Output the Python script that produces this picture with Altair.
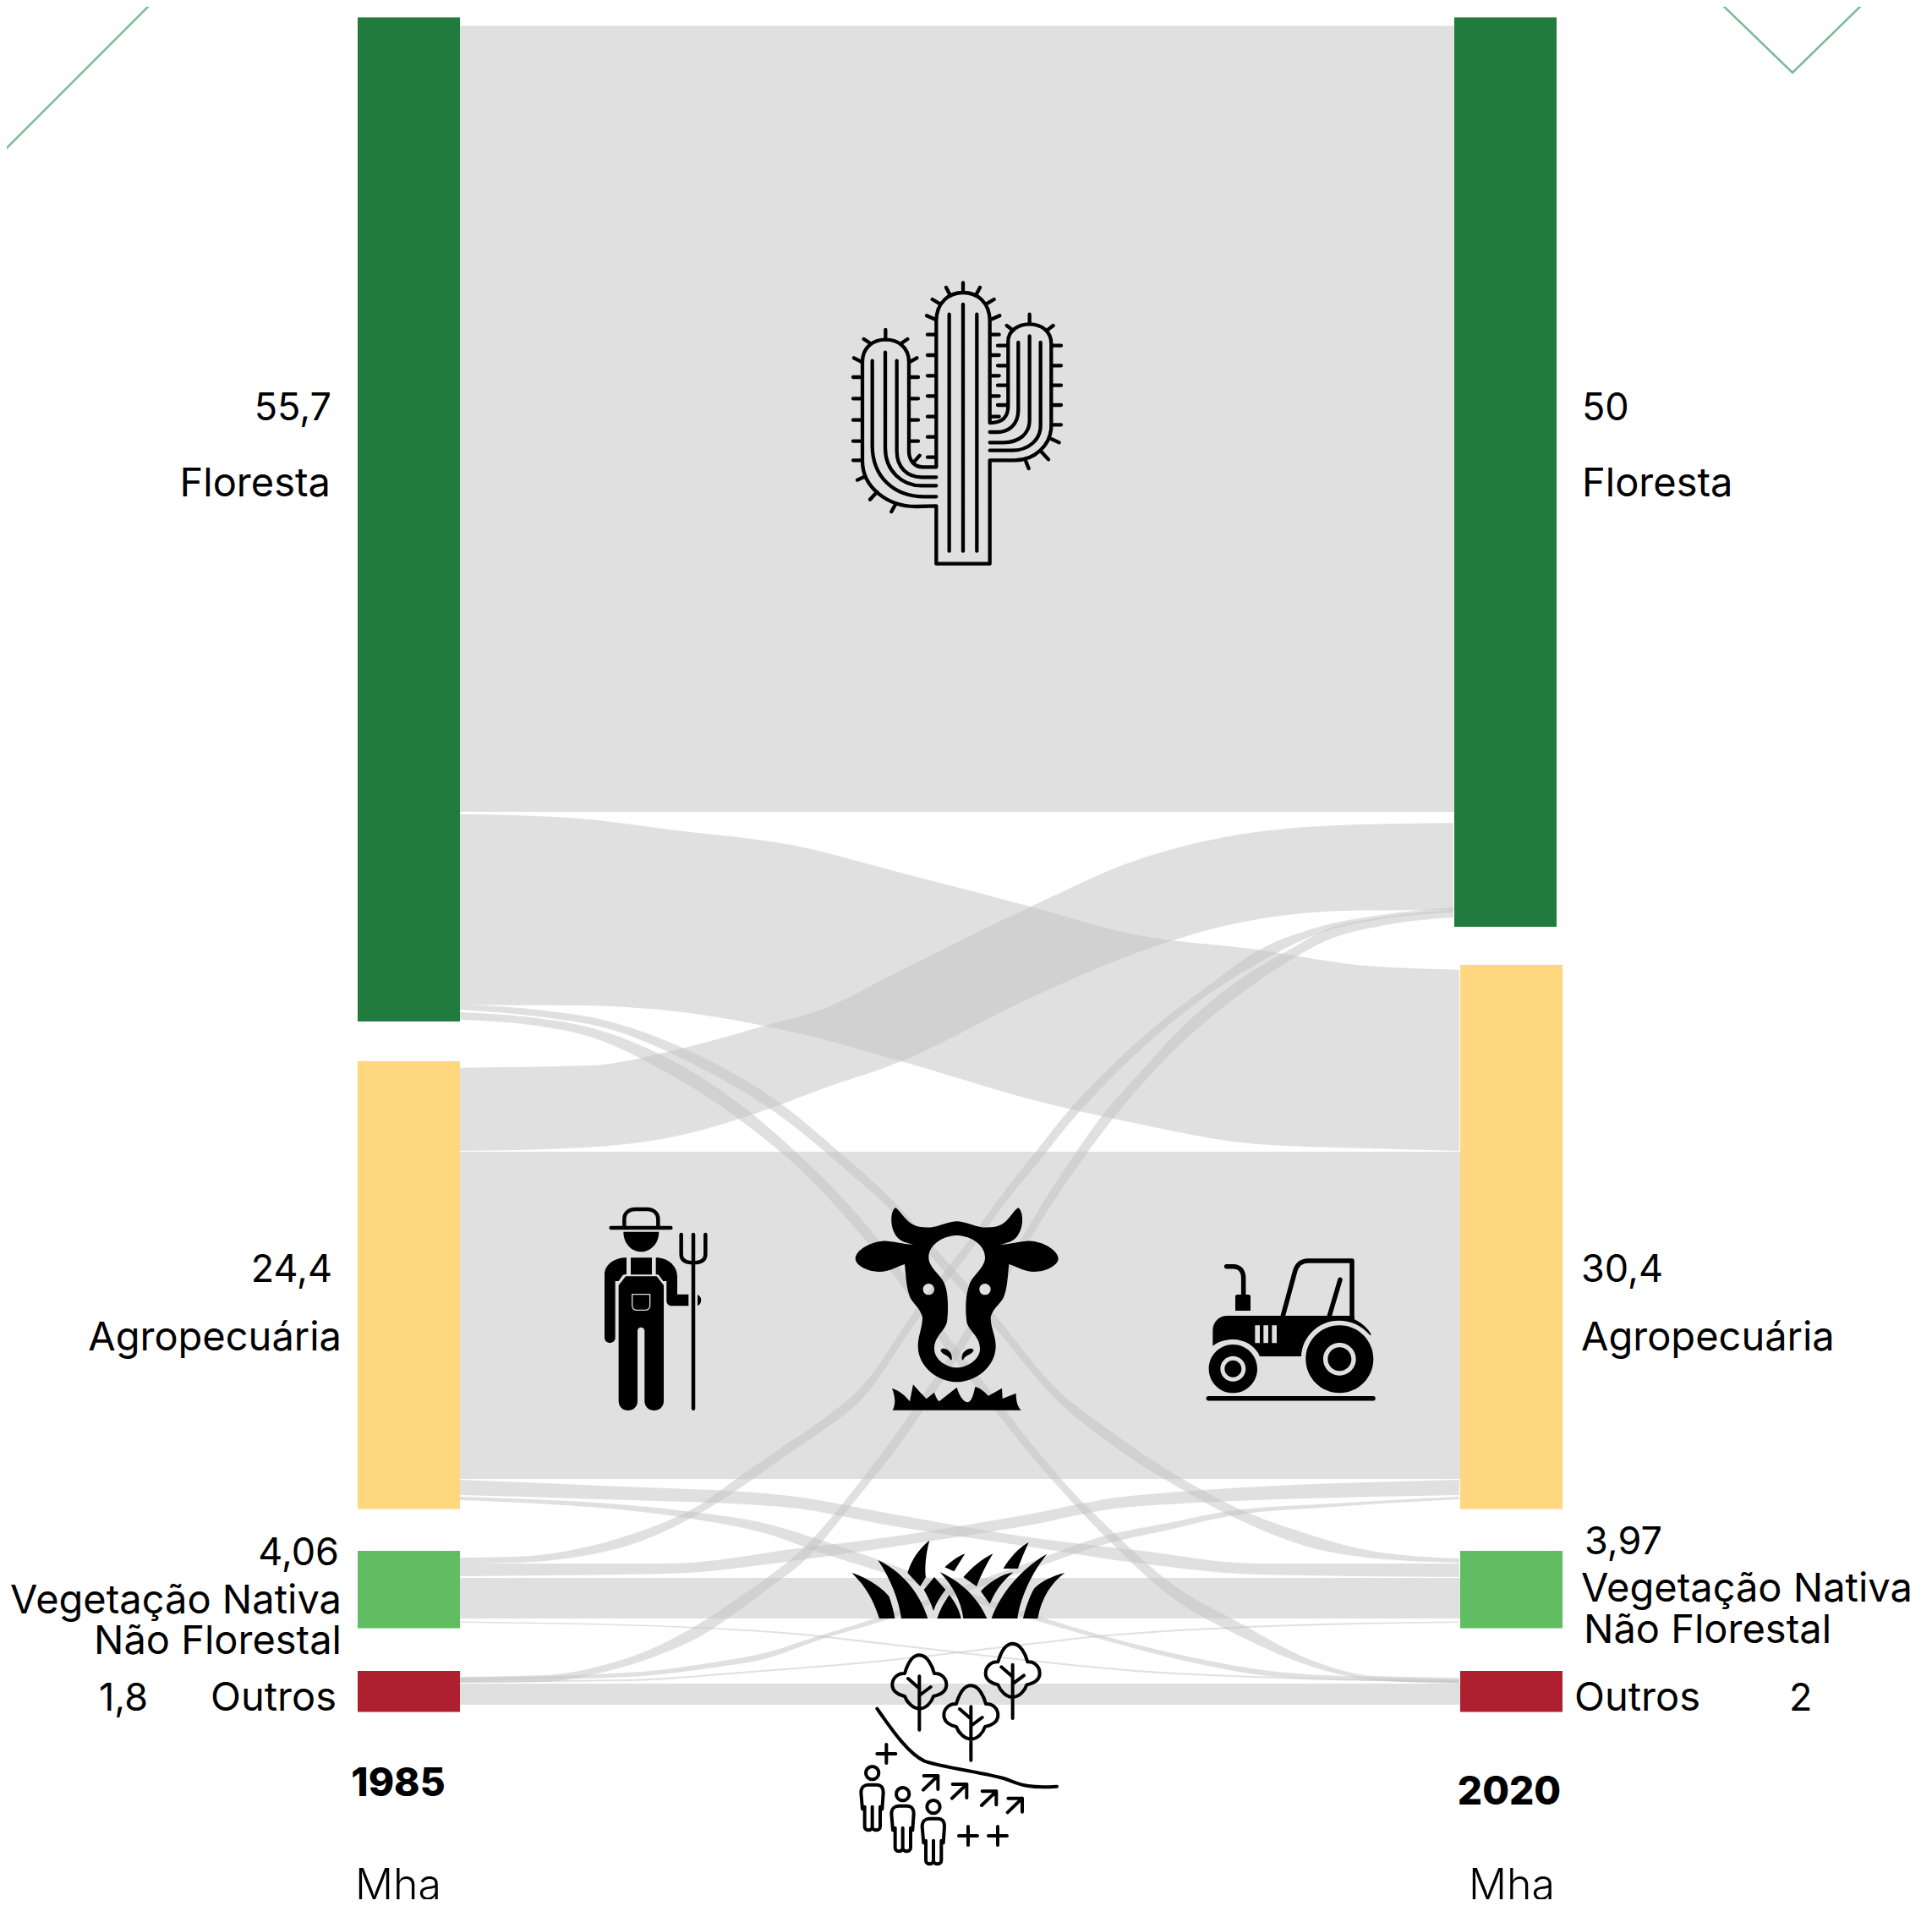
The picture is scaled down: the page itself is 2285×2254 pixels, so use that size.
import altair as alt
import pandas as pd

# ---- Sankey nodes: label, column, value, extent
node_names = ["Floresta", "Agropecuária", "Vegetação Nativa", "Outros",
              "Floresta", "Agropecuária", "Vegetação Nativa", "Outros"]
node_years = [1985, 1985, 1985, 1985, 2020, 2020, 2020, 2020]
node_values = [55.7, 24.4, 4.06, 1.8, 50, 30.4, 3.97, 2]
node_x0 = [423, 423, 423, 423, 1720, 1727, 1727, 1727]
node_x1 = [544, 544, 544, 544, 1841, 1848, 1848, 1848]
node_top = [20.4, 1255, 1834, 1976, 20.4, 1141, 1834, 1976]
node_bot = [1208, 1784.5, 1925.5, 2024.5, 1096, 1784.5, 1925.5, 2024.5]
node_cols = ["#217a3e", "#fed77f", "#60bd61", "#ae2030",
             "#217a3e", "#fed77f", "#60bd61", "#ae2030"]

# ---- Flows: (position, upper edge, lower edge)
flow_ff = [(544, 30.6, 960), (1720, 30.6, 960)]
flow_fa = [(544, 962.7, 1188.3), (607, 964, 1188.7), (683, 967.7, 1189), (798, 981.7, 1196),
           (936, 999.3, 1220), (1066, 1032.3, 1255), (1219, 1072.3, 1300), (1341, 1105, 1328),
           (1487, 1123, 1353), (1617, 1142.3, 1358), (1726, 1146.7, 1361)]
flow_af = [(544, 1262.7, 1361), (698, 1260, 1356.7), (798, 1241.7, 1344), (913, 1210.7, 1310),
           (966, 1196, 1290), (1066, 1147.3, 1255), (1219, 1072.3, 1180), (1341, 1018.3, 1128),
           (1448, 990, 1095), (1601, 975.3, 1076.7), (1719, 973.3, 1076)]
flow_fv = [(544, 1188, 1194), (644, 1195, 1203), (721, 1208, 1217), (807, 1239, 1252),
           (926, 1307, 1322), (992, 1362, 1376), (1064, 1428, 1442), (1103, 1473, 1488),
           (1175, 1553, 1568), (1247, 1640, 1653), (1310, 1690, 1705), (1387, 1742, 1755),
           (1467, 1785, 1798), (1543, 1813, 1828), (1627, 1835, 1843), (1726, 1843, 1848)]
flow_fo = [(544, 1197, 1206), (627, 1203, 1212), (701, 1216, 1227), (779, 1246, 1263),
           (892, 1319, 1337), (941, 1362, 1378), (1024, 1448, 1467), (1057, 1490, 1508),
           (1110, 1565, 1583), (1187, 1665, 1681), (1210, 1695, 1710), (1255, 1749, 1762),
           (1322, 1817, 1832), (1378, 1867, 1883), (1473, 1923, 1938), (1543, 1960, 1968),
           (1627, 1982, 1987), (1726, 1984, 1991)]
flow_vf = [(544, 1842, 1849), (611, 1841, 1848), (677, 1833, 1842), (751, 1813, 1825),
           (827, 1780, 1790), (872, 1748, 1762), (927, 1710, 1723), (971, 1680, 1693),
           (1019, 1640, 1655), (1087, 1543, 1558), (1145, 1468, 1483), (1200, 1393, 1408),
           (1225, 1362, 1378), (1265, 1312, 1328), (1312, 1263, 1277), (1367, 1213, 1225),
           (1433, 1163, 1173), (1483, 1127, 1142), (1557, 1097, 1105), (1633, 1082, 1087),
           (1719, 1073, 1079)]
flow_of = [(544, 1983, 1990), (644, 1981, 1989), (711, 1970, 1978), (777, 1947, 1958),
           (837, 1914, 1930), (877, 1887, 1902), (907, 1866, 1880), (954, 1827, 1843),
           (1011, 1760, 1775), (1064, 1690, 1708), (1105, 1630, 1648), (1180, 1512, 1530),
           (1235, 1420, 1438), (1273, 1362, 1381), (1303, 1320, 1340), (1347, 1270, 1286),
           (1400, 1213, 1231), (1457, 1165, 1183), (1527, 1122, 1135), (1567, 1100, 1113),
           (1633, 1085, 1095), (1719, 1076, 1085)]
flow_aa = [(544, 1362, 1749), (1727, 1362, 1749)]
flow_av = [(544, 1750, 1768), (711, 1757, 1773), (925, 1768, 1782), (1064, 1792, 1806),
           (1210, 1817, 1828), (1343, 1833, 1848), (1487, 1849, 1862), (1726, 1849, 1865)]
flow_va = [(544, 1849, 1864), (790, 1849, 1861), (945, 1831, 1845), (1064, 1816, 1828),
           (1210, 1792, 1805), (1337, 1769, 1782), (1726, 1750, 1768)]
flow_ao = [(544, 1770, 1774), (811, 1787, 1795), (911, 1803, 1815), (967, 1820, 1835),
           (1040, 1845, 1858), (1130, 1878, 1888), (1227, 1911, 1917), (1300, 1933, 1938),
           (1410, 1960, 1966), (1510, 1977, 1983), (1643, 1984, 1988), (1726, 1986, 1990)]
flow_oa = [(544, 1984, 1988), (744, 1978, 1983), (837, 1967, 1973), (911, 1953, 1960),
           (967, 1935, 1940), (1041, 1912, 1918), (1140, 1875, 1883), (1230, 1843, 1852),
           (1300, 1818, 1828), (1387, 1800, 1808), (1453, 1787, 1793), (1577, 1778, 1782),
           (1726, 1770, 1773)]
flow_vv = [(544, 1866, 1914), (1727, 1866, 1914)]
flow_vo = [(544, 1917.5, 1919), (811, 1923.5, 1925), (927, 1930, 1932), (1064, 1945, 1947),
           (1220, 1963, 1965), (1343, 1975, 1977), (1510, 1983, 1985), (1726, 1988, 1989.5)]
flow_ov = [(544, 1988, 1989.5), (744, 1986, 1988), (877, 1977, 1979), (1064, 1961, 1963),
           (1210, 1944, 1946), (1310, 1933, 1935), (1477, 1923, 1925), (1726, 1917.5, 1919)]
flow_oo = [(544, 1991, 2016), (1727, 1991, 2016)]

flows = {"ff": flow_ff, "fa": flow_fa, "af": flow_af, "fv": flow_fv, "fo": flow_fo, "vf": flow_vf,
         "of": flow_of, "aa": flow_aa, "av": flow_av, "va": flow_va, "ao": flow_ao, "oa": flow_oa,
         "vv": flow_vv, "vo": flow_vo, "ov": flow_ov, "oo": flow_oo}

# ---- Texts
left_num = ["55,7", "24,4", "4,06"]
left_num_x = [392, 393, 401]
left_num_y = [483, 1502, 1837]
left_text = ["Floresta", "Agropecuária", "Vegetação Nativa", "Não Florestal", "Outros"]
left_x = [391, 404, 404, 404, 398]
left_y = [573, 1583, 1894, 1942, 2009]
right_num = ["50", "30,4", "3,97", "2", "1,8"]
right_num_x = [1871, 1870, 1874, 2116, 117]
right_num_y = [483, 1502, 1824, 2009, 2009]
right_text = ["Floresta", "Agropecuária", "Vegetação Nativa", "Não Florestal", "Outros"]
right_x = [1871, 1870, 1870, 1873, 1862]
right_y = [573, 1583, 1880, 1929, 2009]
year_text = ["1985", "2020"]
year_x = [471, 1785]
year_y = [2110, 2120]
unit_text = ["Mha", "Mha"]
unit_x = [471, 1788]
unit_y = [2231, 2231]

# ---- Corner decoration
deco_id = ["a", "a", "b", "b", "b"]
deco_x = [0, 183, 2031, 2120, 2208]
deco_y = [183, 0, 0, 86, 0]

FONT = "Inter"
X_SCALE = alt.Scale(domain=[8, 2277], range=[0, 2269], nice=False, zero=False)
Y_SCALE = alt.Scale(domain=[8, 2246], range=[0, 2238], nice=False, zero=False)
X = alt.X("x:Q", scale=X_SCALE, axis=None)
Y = alt.Y("y:Q", scale=Y_SCALE, axis=None)

# ---- Flow layer
rows = []
for fid, pts in flows.items():
    for x, t, b in pts:
        rows.append({"id": fid, "x": x, "y": t, "y2": b})
flow_layer = alt.Chart(pd.DataFrame(rows)).mark_area(
    color="#c2c2c2", opacity=0.5, interpolate="monotone"
).encode(x=X, y=Y, y2=alt.Y2("y2:Q"), detail="id:N")

# ---- Node layer
node_df = pd.DataFrame({"x": node_x0, "x2": node_x1, "y": node_top, "y2": node_bot,
                        "name": node_names, "year": node_years, "value": node_values,
                        "color": node_cols})
node_layer = alt.Chart(node_df).mark_rect(strokeWidth=0).encode(
    x=X, x2=alt.X2("x2:Q"), y=Y, y2=alt.Y2("y2:Q"), color=alt.Color("color:N", scale=None)
)


def text_layer(texts, xs, ys, align, size=47, weight=400):
    df = pd.DataFrame({"x": xs, "y": ys, "t": texts})
    return alt.Chart(df).mark_text(font=FONT, fontSize=size, fontWeight=weight, align=align,
                                   baseline="middle", color="#000000"
                                   ).encode(x=X, y=Y, text="t:N")


# ---- Corner lines
deco_layer = alt.Chart(pd.DataFrame({"id": deco_id, "x": deco_x, "y": deco_y})).mark_line(
    color="#77bc94", strokeWidth=2.5, clip=True
).encode(x=X, y=Y, detail="id:N", order=alt.Order("x:Q"))


# ---- Icons are symbols whose shape is an SVG path in 3x crop units
def circ(cx, cy, r, ccw=False):
    k = 0.5523 * r
    if not ccw:
        return (f"M{cx} {cy-r}C{cx+k} {cy-r} {cx+r} {cy-k} {cx+r} {cy}C{cx+r} {cy+k} {cx+k} {cy+r} {cx} {cy+r}"
                f"C{cx-k} {cy+r} {cx-r} {cy+k} {cx-r} {cy}C{cx-r} {cy-k} {cx-k} {cy-r} {cx} {cy-r}Z")
    return (f"M{cx} {cy-r}C{cx-k} {cy-r} {cx-r} {cy-k} {cx-r} {cy}C{cx-r} {cy+k} {cx-k} {cy+r} {cx} {cy+r}"
            f"C{cx+k} {cy+r} {cx+r} {cy+k} {cx+r} {cy}C{cx+r} {cy-k} {cx+k} {cy-r} {cx} {cy-r}Z")


def icon(x0, y0, path, filled=True, sw=4, color="#000000"):
    df = pd.DataFrame({"x": [x0], "y": [y0]})
    if filled:
        m = alt.Chart(df).mark_point(shape=path, size=4 / 9, filled=True, fill=color, opacity=1,
                                     strokeWidth=0)
    else:
        m = alt.Chart(df).mark_point(shape=path, size=4 / 9, filled=False, stroke=color, opacity=1,
                                     strokeWidth=sw, strokeCap="round", strokeJoin="round")
    return m.encode(x=X, y=Y)


cactus = ("M442 1100L442 895L370 897C270 897 180 830 180 735L180 385C180 330 220 305 262 305"
          "C305 305 345 330 345 385L345 700C345 735 365 757 395 757L442 757L442 240"
          "C442 170 490 138 537 138C585 138 632 170 632 240L632 600C665 600 697 590 697 540L697 310"
          "C697 275 730 250 773 250C815 250 850 275 850 320L850 610C850 680 790 733 720 733L632 733L632 1100Z"
          "M488 215L488 1055M537 180L537 1055M586 215L586 1055"
          "M215 380L215 680C215 790 290 862 400 862L442 862"
          "M261 350L261 690C261 770 320 823 390 823L442 823"
          "M302 380L302 700C302 760 340 793 390 793L442 793"
          "M733 315L733 555C733 605 700 633 660 633L632 633"
          "M773 292L773 590C773 640 735 670 680 670L632 670"
          "M812 315L812 610C812 660 770 698 710 698L632 698")
for y in [438, 514, 590, 665, 733]:
    cactus += f"M147 {y}L175 {y}"
for y in [438, 514, 590, 665]:
    cactus += f"M350 {y}L378 {y}"
for y in [287, 360, 433, 505, 578, 650, 722]:
    cactus += f"M411 {y}L440 {y}"
for y in [287, 360, 433, 505]:
    cactus += f"M636 {y}L665 {y}"
for y in [326, 397, 467, 537]:
    cactus += f"M660 {y}L692 {y}"
for y in [326, 397, 467, 537, 607]:
    cactus += f"M853 {y}L885 {y}"
cactus += ("M640 578L665 578M150 370L175 383M185 303L208 318M262 270L262 303M340 303L318 318M373 370L350 383"
           "M162 803L190 790M207 872L232 845M283 915L297 890M383 716L362 740"
           "M537 103L537 135M477 120L490 145M597 120L584 145M428 162L455 178M647 162L620 178"
           "M408 220L435 232M667 220L640 232M773 215L773 248M692 255L715 272M857 255L835 272"
           "M850 657L878 670M817 705L840 730M760 737L770 762")

farmer_fill = ("M172 170L298 170C298 215 265 241 235 241C205 241 172 215 172 170Z"
               "M198 262L273 262L273 322L198 322Z"
               "M183 262L183 320L170 323L155 345L143 345L143 545C143 570 105 570 105 545L105 325C105 285 140 262 183 262Z"
               "M287 262C330 262 363 290 363 330L363 392L403 392L403 433L345 433C330 433 325 425 325 412L325 345L313 345L297 323L287 320Z"
               "M180 328L290 328L315 360L315 770C315 815 247 815 247 770L247 522C247 505 222 505 222 522L222 770C222 815 155 815 155 770L155 360Z"
               "M435 393C452 400 452 425 435 433Z")
farmer_pocket = "M203 392L266 392L266 430C266 442 260 448 250 448L218 448C208 448 203 442 203 430Z"
farmer_hat = ("M128 156L340 156M175 152L175 125C175 100 195 90 215 90L255 90C280 90 295 105 295 125L295 152"
              "M420 180L420 797M377 180L377 250C377 272 395 280 420 280C445 280 463 272 463 250L463 180")

cow = ("M207 85C222 92 240 130 270 145C290 155 320 157 345 152C380 145 400 133 425 133C450 133 470 145 505 152"
       "C530 157 565 155 585 143C610 130 625 95 643 85C660 95 665 150 640 185C625 205 600 210 580 215"
       "C620 215 660 200 690 203C740 207 785 240 785 265C785 290 740 312 700 312C665 312 640 295 610 285"
       "C605 330 605 370 590 405C575 430 550 445 545 475C545 510 563 540 563 575C563 650 490 703 425 703"
       "C360 703 287 650 287 575C287 540 303 510 303 475C298 445 275 430 260 405C245 370 245 330 240 285"
       "C210 295 185 312 150 312C110 312 65 290 65 265C65 240 110 207 160 203C190 200 230 215 270 215"
       "C250 210 225 205 210 185C185 150 190 95 207 85Z"
       "M425 183C385 183 325 210 325 262C325 300 375 325 385 365C395 400 395 450 390 490C385 520 345 540 345 585"
       "C345 625 390 652 425 652C460 652 507 625 507 585C507 540 465 520 460 490C455 450 455 400 467 365"
       "C477 325 525 300 525 262C525 210 465 183 425 183Z"
       "M367 590C375 578 395 585 403 600C410 615 408 628 403 625C395 605 375 610 367 590Z"
       "M485 590C477 578 457 585 447 600C440 615 443 628 447 625C455 605 475 610 485 590Z"
       + circ(325, 374, 20, True) + circ(525, 374, 20, True) +
       "M197 803C210 780 205 750 195 725C225 735 245 755 258 772L270 712C285 730 305 750 317 763L345 740"
       "C350 755 355 765 362 772L425 722C435 755 450 775 465 775C480 770 485 740 490 720C510 725 525 740 537 752"
       "L585 725L587 762L635 743C635 770 640 790 653 803Z")

tractor_fill = ("M103 395L103 340C103 310 125 288 155 288L605 288L605 300C635 315 655 335 665 355L662 358"
                "C630 320 590 305 550 305C480 305 420 360 417 432L270 432C255 395 215 372 175 372C150 372 125 378 103 395Z"
                "M253 322L253 385L270 385L270 322ZM283 322L283 385L300 385L300 322ZM313 322L313 385L330 385L330 322Z"
                + circ(553, 442, 120) + circ(553, 442, 58, True) + circ(553, 442, 42)
                + circ(175, 476, 86) + circ(175, 476, 45, True) + circ(175, 476, 30) +
                "M183 218Q183 213 190 213L230 213Q237 213 237 218L237 270L183 270Z")
tractor_line = ("M152 113L175 113C200 113 212 130 212 155L212 213"
                "M352 288L395 130C402 105 420 93 440 93L597 93L597 295M517 288L555 160M88 581L672 581")

grass = ("M82 180C130 195 190 230 215 265C225 295 232 320 235 342L180 342C160 280 130 225 82 180Z"
         "M175 135C250 170 320 240 352 342L258 342C250 280 220 200 175 135Z"
         "M358 65C345 110 340 170 345 195L325 228L280 180C295 130 325 90 358 65Z"
         "M375 195L415 240C395 265 380 290 372 315C365 290 352 265 338 240Z"
         "M428 258C450 285 465 315 470 342L385 342C395 310 410 285 428 258Z"
         "M395 178C470 210 530 270 562 342L478 342C470 280 440 225 395 178Z"
         "M484 112L445 175L412 160C435 140 460 120 484 112Z"
         "M583 112C560 150 540 190 525 228L478 195C510 160 545 130 583 112Z"
         "M710 72C695 105 680 140 672 165L620 165C640 130 675 90 710 72Z"
         "M655 178C610 215 590 250 572 290L540 245C575 210 615 185 655 178Z"
         "M775 113C720 180 680 270 670 342L578 342C610 250 690 160 775 113Z"
         "M838 180C790 215 755 270 742 342L690 342C700 300 715 260 730 235C760 205 800 190 838 180Z")


def tree(dx, dy):
    pts = [322, 472, 350, 472, 368, 510, 375, 537, 400, 535, 418, 555, 418, 577, 418, 600, 400, 612, 372, 618,
           365, 640, 345, 662, 322, 662, 300, 662, 278, 640, 270, 618, 245, 612, 226, 600, 226, 577, 226, 555,
           245, 535, 270, 537, 278, 510, 295, 472, 322, 472]
    xy = [(pts[i] + dx, pts[i + 1] + dy) for i in range(0, len(pts), 2)]
    s = f"M{xy[0][0]} {xy[0][1]}"
    for i in range(1, len(xy), 3):
        s += f"C{xy[i][0]} {xy[i][1]} {xy[i+1][0]} {xy[i+1][1]} {xy[i+2][0]} {xy[i+2][1]}"
    s += (f"ZM{322+dx} {547+dy}L{322+dx} {737+dy}M{282+dx} {555+dy}L{322+dx} {590+dy}"
          f"M{362+dx} {585+dy}L{322+dx} {615+dy}")
    return s


def plus(cx, cy):
    return f"M{cx-33} {cy}L{cx+33} {cy}M{cx} {cy-33}L{cx} {cy+33}"


def arrow(tx, ty):
    return f"M{tx-52} {ty+50}L{tx} {ty}M{tx-50} {ty}L{tx} {ty}L{tx} {ty+48}"


def person(dx, dy):
    return (circ(155 + dx, 890 + dy, 23) +
            f"M{120+dx} {1018+dy}L{115+dx} {960+dy}C{115+dx} {940+dy} {128+dx} {932+dy} {140+dx} {932+dy}"
            f"L{172+dx} {932+dy}C{184+dx} {932+dy} {194+dx} {940+dy} {194+dx} {960+dy}L{190+dx} {1018+dy}"
            f"M{128+dx} {1010+dy}L{128+dx} {1080+dy}C{128+dx} {1097+dy} {155+dx} {1097+dy} {155+dx} {1080+dy}"
            f"L{155+dx} {1010+dy}M{155+dx} {1080+dy}C{155+dx} {1097+dy} {183+dx} {1097+dy} {183+dx} {1080+dy}L{183+dx} {1010+dy}")


landscape = (tree(0, 0) + tree(183, 108) + tree(331, -41) +
             "M172 662C220 730 280 820 340 848C400 870 560 890 630 912C680 930 700 945 810 938" +
             plus(205, 822) + plus(495, 1113) + plus(600, 1113) +
             arrow(388, 900) + arrow(490, 930) + arrow(595, 955) + arrow(687, 980) +
             person(0, 0) + person(108, 75) + person(217, 120))

icons = [
    icon(960, 300, cactus, filled=False, sw=4.3),
    icon(680, 1400, farmer_fill),
    icon(680, 1400, farmer_pocket, filled=False, sw=1.3, color="#e0e0e0"),
    icon(680, 1400, farmer_hat, filled=False, sw=4.5),
    icon(990, 1400, cow),
    icon(1400, 1460, tractor_fill),
    icon(1400, 1460, tractor_line, filled=False, sw=5.5),
    icon(980, 1800, grass),
    icon(980, 1800, landscape, filled=False, sw=4),
]

chart = alt.layer(
    flow_layer,
    node_layer,
    deco_layer,
    *icons,
    text_layer(left_num, left_num_x, left_num_y, "right", size=45),
    text_layer(left_text, left_x, left_y, "right"),
    text_layer(right_num, right_num_x, right_num_y, "left", size=45),
    text_layer(right_text, right_x, right_y, "left"),
    text_layer(year_text, year_x, year_y, "center", size=46, weight=800),
    text_layer(unit_text, unit_x, unit_y, "center", size=50, weight=300),
).properties(
    width=2269, height=2238, padding=0, background="#ffffff",
    autosize=alt.AutoSizeParams(type="none"),
).configure_view(stroke=None)

chart.save("out.html", embed_options={"renderer": "svg", "actions": False})
